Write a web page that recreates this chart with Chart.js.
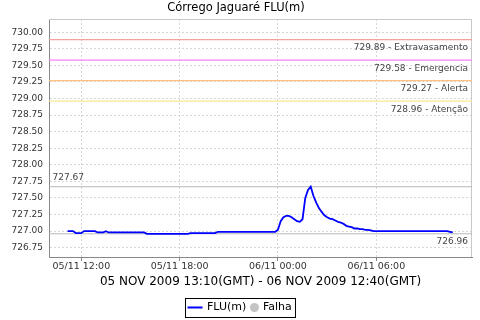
<!DOCTYPE html>
<html>
<head>
<meta charset="utf-8">
<script src="https://cdn.jsdelivr.net/npm/chart.js@4.4.0/dist/chart.umd.min.js"></script>
<style>
  html, body { margin: 0; padding: 0; background: #fff; }
</style>
</head>
<body>
<canvas id="chart" width="480" height="320"></canvas>
<script>
// hours since 05/11 00:00 local time (GMT-2), one reading every 10 min
const startHour = 11 + 10 / 60
const stepMinutes = 10
const levels = [
  727.00, 727.00, 727.00, 726.97, 726.97, 726.97, 727.00, 727.00, 727.00, 727.00,
  727.00, 726.98, 726.98, 726.98, 727.00, 726.98, 726.98, 726.98, 726.98, 726.98,
  726.98, 726.98, 726.98, 726.98, 726.98, 726.98, 726.98, 726.98, 726.98, 726.96,
  726.96, 726.96, 726.96, 726.96, 726.96, 726.96, 726.96, 726.96, 726.96, 726.96,
  726.96, 726.96, 726.96, 726.96, 726.96, 726.97, 726.97, 726.97, 726.97, 726.97,
  726.97, 726.97, 726.97, 726.97, 726.97, 726.99, 726.99, 726.99, 726.99, 726.99,
  726.99, 726.99, 726.99, 726.99, 726.99, 726.99, 726.99, 726.99, 726.99, 726.99,
  726.99, 726.99, 726.99, 726.99, 726.99, 726.99, 726.99, 727.02, 727.15, 727.21,
  727.23, 727.23, 727.21, 727.18, 727.15, 727.14, 727.18, 727.50, 727.62, 727.67,
  727.53, 727.43, 727.35, 727.29, 727.24, 727.21, 727.19, 727.18, 727.16, 727.14,
  727.13, 727.11, 727.08, 727.07, 727.06, 727.04, 727.04, 727.03, 727.03, 727.02,
  727.02, 727.01, 727.00, 727.00, 727.00, 727.00, 727.00, 727.00, 727.00, 727.00,
  727.00, 727.00, 727.00, 727.00, 727.00, 727.00, 727.00, 727.00, 727.00, 727.00,
  727.00, 727.00, 727.00, 727.00, 727.00, 727.00, 727.00, 727.00, 727.00, 727.00,
  726.99, 726.98
]

const markerValues = [729.89, 729.58, 729.27, 728.96]
const markerNames = ['Extravasamento', 'Emergencia', 'Alerta', 'Atenção']
const markerColors = ['#f2a0a0', '#ff80ff', '#ffc080', '#f4ea98']
const maxLevel = 727.67
const minLevel = 726.96

const xTicks = [12, 18, 24, 30]
const xTickLabels = ['05/11 12:00', '05/11 18:00', '06/11 00:00', '06/11 06:00']
const yTicks = [726.75, 727.00, 727.25, 727.50, 727.75, 728.00, 728.25, 728.50,
  728.75, 729.00, 729.25, 729.50, 729.75, 730.00]
const xMin = 10.03, xMax = 35.84
const yMin = 726.61, yMax = 730.20

const FONT = 'DejaVu Sans'

const points = levels.map((v, i) => ({ x: startHour + i * stepMinutes / 60, y: v }))
const flat = v => [{ x: xMin, y: v }, { x: xMax, y: v }]

const datasets = [{
  label: 'FLU(m)',
  data: points,
  borderColor: '#0000ff',
  borderWidth: 1.8,
  pointRadius: 0,
  tension: 0,
  legend: 'line'
}, {
  label: 'Falha',
  data: [],
  borderColor: '#c4c4c4',
  backgroundColor: '#c4c4c4',
  legend: 'circle'
}]
markerValues.forEach((v, i) => {
  datasets.push({ label: markerNames[i], data: flat(v), borderColor: markerColors[i], borderWidth: 1.2, pointRadius: 0 })
})
datasets.push({ label: 'max', data: flat(maxLevel), borderColor: '#b8b8b8', borderWidth: 1, pointRadius: 0 })
datasets.push({ label: 'min', data: flat(minLevel), borderColor: '#b8b8b8', borderWidth: 1, pointRadius: 0 })

const extras = {
  id: 'extras',
  beforeDatasetsDraw(chart) {
    const a = chart.chartArea, ctx = chart.ctx
    ctx.save()
    ctx.strokeStyle = '#c8c8c8'
    ctx.lineWidth = 1
    ctx.beginPath()
    ctx.moveTo(a.left, a.top + 0.5)
    ctx.lineTo(a.right - 0.5, a.top + 0.5)
    ctx.lineTo(a.right - 0.5, a.bottom)
    ctx.stroke()
    ctx.restore()
  },
  afterDatasetsDraw(chart) {
    const a = chart.chartArea, ctx = chart.ctx, y = chart.scales.y
    ctx.save()
    ctx.font = '9px "' + FONT + '"'
    ctx.fillStyle = '#444'
    ctx.textBaseline = 'middle'
    ctx.textAlign = 'right'
    markerValues.forEach((v, i) => {
      ctx.fillText(v.toFixed(2) + ' - ' + markerNames[i], a.right - 4, y.getPixelForValue(v) + 8.5)
    })
    ctx.fillText(minLevel.toFixed(2), a.right - 4, y.getPixelForValue(minLevel) + 7.7)
    ctx.textAlign = 'left'
    ctx.fillText(maxLevel.toFixed(2), a.left + 3.5, y.getPixelForValue(maxLevel) - 9)
    ctx.restore()
  },
  afterDraw(chart) {
    // legend box under the axis title
    const ctx = chart.ctx
    const items = chart.data.datasets.filter(d => d.legend)
    ctx.save()
    ctx.font = '11px "' + FONT + '"'
    const widths = items.map(d => ctx.measureText(d.label).width)
    const sym = { line: 15, circle: 9 }
    const gapIn = { line: 4.5, circle: 4 }
    let total = 2
    items.forEach((d, i) => { total += sym[d.legend] + gapIn[d.legend] + widths[i] + 3.7 })
    const left = Math.round(chart.width / 2 - total / 2) + 0.5
    const top = 298.5, bottom = 317.5, cy = 307.5
    ctx.strokeStyle = '#000'
    ctx.lineWidth = 1
    ctx.strokeRect(left, top, total, bottom - top)
    let x = left + 2
    ctx.textBaseline = 'middle'
    ctx.textAlign = 'left'
    items.forEach((d, i) => {
      if (d.legend === 'line') {
        ctx.strokeStyle = d.borderColor
        ctx.lineWidth = 2
        ctx.beginPath()
        ctx.moveTo(x, cy)
        ctx.lineTo(x + sym.line, cy)
        ctx.stroke()
      } else {
        ctx.fillStyle = d.backgroundColor
        ctx.beginPath()
        ctx.arc(x + sym.circle / 2, cy, sym.circle / 2, 0, Math.PI * 2)
        ctx.fill()
      }
      x += sym[d.legend] + gapIn[d.legend]
      ctx.fillStyle = '#000'
      ctx.fillText(d.label, x, cy)
      x += widths[i] + 3.7
    })
    ctx.restore()
  }
}

const chart = new Chart(document.getElementById('chart'), {
  type: 'line',
  data: { datasets },
  plugins: [extras],
  options: {
    responsive: false,
    animation: false,
    layout: { padding: { left: 0, right: 8, top: 0, bottom: 23 } },
    plugins: {
      legend: { display: false },
      tooltip: { enabled: false },
      title: {
        display: true,
        text: 'Córrego Jaguaré FLU(m)',
        color: '#000',
        font: { family: FONT, size: 11.5, weight: 'normal' },
        padding: { top: 1.3, bottom: 3.9 }
      }
    },
    scales: {
      x: {
        type: 'linear',
        min: xMin,
        max: xMax,
        afterBuildTicks: s => { s.ticks = xTicks.map(v => ({ value: v })) },
        afterFit: s => { s.height = 40 },
        ticks: {
          callback: v => xTickLabels[xTicks.indexOf(v)],
          font: { family: FONT, size: 9.5 },
          color: '#333',
          padding: 0,
          maxRotation: 0,
          autoSkip: false
        },
        grid: { color: '#d6d6d6', tickColor: '#888', tickLength: 4 },
        border: { color: '#888', dash: [2, 2] },
        title: {
          display: true,
          text: '05 NOV 2009 13:10(GMT) - 06 NOV 2009 12:40(GMT)',
          color: '#000',
          font: { family: FONT, size: 12 },
          padding: { top: 0, bottom: 7.8 }
        }
      },
      y: {
        type: 'linear',
        min: yMin,
        max: yMax,
        afterBuildTicks: s => { s.ticks = yTicks.map(v => ({ value: v })) },
        afterFit: s => { s.width = 49 },
        ticks: {
          callback: v => v.toFixed(2),
          font: { family: FONT, size: 9 },
          color: '#333',
          padding: 6
        },
        grid: { color: '#d6d6d6', drawTicks: false },
        border: { color: '#888', dash: [2, 2] }
      }
    }
  }
})
</script>
</body>
</html>
